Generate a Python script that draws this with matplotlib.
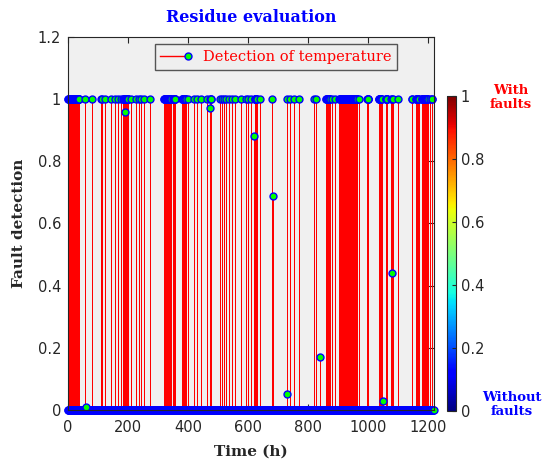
import numpy as np
import matplotlib
matplotlib.use("Agg")
import matplotlib.pyplot as plt
from matplotlib.legend_handler import HandlerBase
from matplotlib.lines import Line2D
import matplotlib.colors as mcolors
import matplotlib.cm as cm

# Fault detection residue over the monitoring period (hourly samples)
n_hours = 1219
hours = np.arange(n_hours)

# runs of samples flagged as faulty (start hour, end hour, inclusive)
fault_runs = [
    (0, 37), (58, 58), (81, 81), (111, 112), (122, 122), (142, 142),
    (158, 158), (168, 168), (176, 176), (184, 201), (210, 210), (228, 228),
    (235, 235), (244, 244), (253, 253), (273, 273), (320, 343), (351, 357),
    (380, 392), (400, 400), (420, 420), (430, 430), (443, 443), (463, 463),
    (474, 476), (505, 505), (512, 512), (520, 520), (528, 528), (537, 537),
    (545, 545), (555, 555), (577, 577), (593, 593), (601, 601), (609, 609),
    (622, 629), (641, 641), (680, 680), (731, 731), (740, 740), (753, 753),
    (770, 770), (819, 819), (827, 827), (860, 872), (880, 880), (888, 888),
    (904, 964), (968, 968), (997, 1001), (1035, 1045), (1059, 1064),
    (1075, 1075), (1081, 1082), (1100, 1100), (1145, 1146), (1160, 1168),
    (1179, 1198), (1205, 1205), (1212, 1213),
]

# samples with an intermediate residue value
partial_hours = [60, 190, 473, 621, 682, 729, 841, 1050, 1079]
partial_values = [0.01, 0.96, 0.97, 0.88, 0.69, 0.05, 0.17, 0.03, 0.44]

detection = np.zeros(n_hours)
for a, b in fault_runs:
    detection[a:b + 1] = 1.0
detection[partial_hours] = partial_values

dark = '#262626'
mk_style = dict(marker='o', ms=5, mfc=(0, 1, 0), mec=(0, 0, 1), mew=1,
                ls='none')

fig = plt.figure(figsize=(5.48, 4.62), dpi=100)
ax = fig.add_axes([0.1241, 0.1126, 0.6671, 0.8073])
ax.set_facecolor('#f0f0f0')

on = detection > 0
stems = ax.vlines(hours[on], 0, detection[on], color='red', lw=0.72,
                  zorder=2.1)
stems.set_snap(True)
# baseline markers for every sample, then the non-zero ones on top
ax.plot(hours, np.zeros(n_hours), clip_on=False, zorder=2.3, **mk_style)
ax.plot(hours[on], detection[on], clip_on=False, zorder=2.3, **mk_style)

ax.set_xlim(0, 1218)
ax.set_ylim(0, 1.2)
ax.set_xticks(np.arange(0, 1201, 200))
ax.set_yticks(np.arange(0, 1.21, 0.2))
ax.set_yticklabels(['0', '0.2', '0.4', '0.6', '0.8', '1', '1.2'])
ax.tick_params(direction='in', top=True, right=True, length=4, width=0.8,
               colors=dark, labelsize=10.5)
ax.tick_params(axis='x', pad=7)
ax.tick_params(axis='y', pad=5)
for sp in ax.spines.values():
    sp.set_color(dark)
    sp.set_linewidth(0.8)

serif = 'DejaVu Serif'
ax.set_title('Residue evaluation', color='blue', fontweight='bold',
             family=serif, fontsize=11.5, pad=11)
ax.set_xlabel('Time (h)', fontweight='bold', family=serif, fontsize=11,
              color=dark, labelpad=7)
ax.set_ylabel('Fault detection', fontweight='bold', family=serif,
              fontsize=11, color=dark, labelpad=8)


class StemHandler(HandlerBase):
    def create_artists(self, legend, orig_handle, xdescent, ydescent,
                       width, height, fontsize, trans):
        y = height / 2 - ydescent
        x0 = -xdescent
        line = Line2D([x0, x0 + width * 0.78], [y, y], color='red', lw=1)
        mk = Line2D([x0 + width * 0.9], [y], **mk_style)
        line.set_transform(trans)
        mk.set_transform(trans)
        return [line, mk]


stem_key = Line2D([], [])
leg = ax.legend([stem_key], ['Detection of temperature'],
                handler_map={stem_key: StemHandler()},
                loc='upper right', bbox_to_anchor=(0.9, 0.981),
                borderaxespad=0, fancybox=False, framealpha=1,
                facecolor='#efefef', edgecolor='#555555', handlelength=2.1,
                prop={'family': serif, 'size': 10.5})
for txt in leg.get_texts():
    txt.set_color('red')

cax = fig.add_axes([0.8157, 0.1104, 0.0164, 0.682])
cb = matplotlib.colorbar.ColorbarBase(cax, cmap=cm.jet,
                                      norm=mcolors.Normalize(0, 1))
cb.set_ticks(np.arange(0, 1.01, 0.2))
cb.set_ticklabels(['0', '0.2', '0.4', '0.6', '0.8', '1'])
cax.tick_params(direction='in', length=3, width=0.8, colors=dark,
                labelsize=10.5)
cb.outline.set_edgecolor(dark)
cb.outline.set_linewidth(0.8)

fig.text(0.9325, 0.788, 'With\nfaults', color='red', fontweight='bold',
         family=serif, fontsize=9.5, ha='center', va='center',
         linespacing=1.1)
fig.text(0.934, 0.1255, 'Without\nfaults', color='blue', fontweight='bold',
         family=serif, fontsize=9.5, ha='center', va='center',
         linespacing=1.1)

fig.savefig('out.png', dpi=100)
